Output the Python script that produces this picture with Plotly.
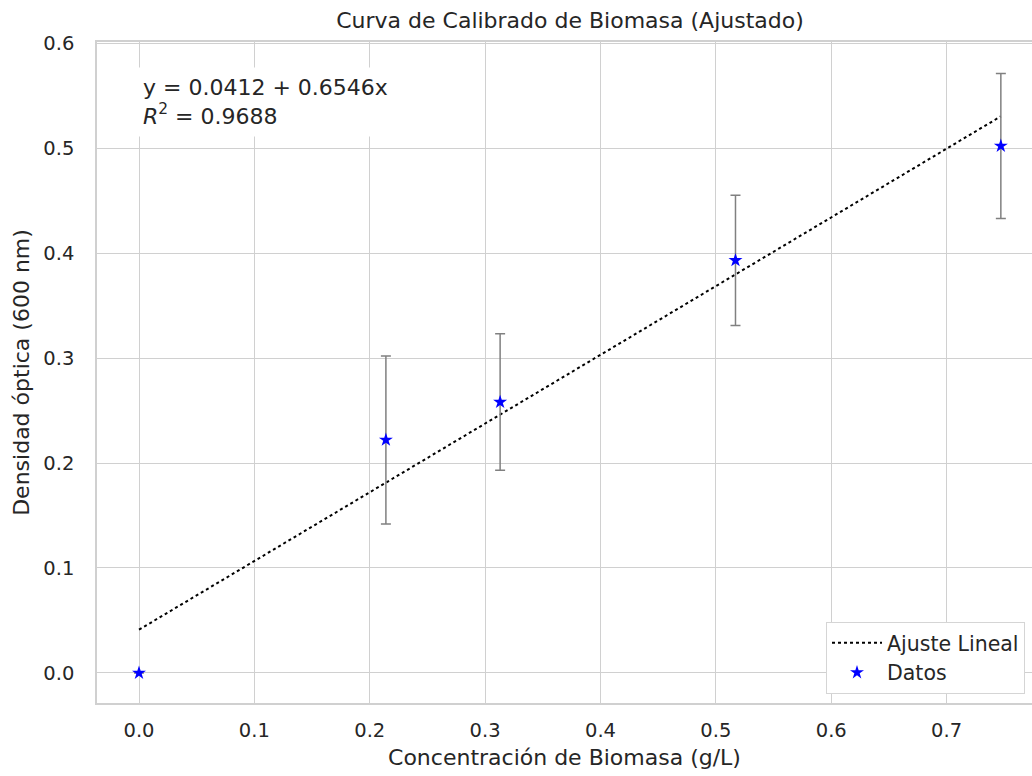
import plotly.graph_objects as go

# Data
concentracion = [0.0, 0.214, 0.313, 0.517, 0.747]
densidad = [0.0, 0.222, 0.258, 0.393, 0.502]
error = [0.0, 0.080, 0.065, 0.062, 0.069]
intercepto = 0.0412
pendiente = 0.6546
r2 = 0.9688
x_ticks = [0.0, 0.1, 0.2, 0.3, 0.4, 0.5, 0.6, 0.7]
y_ticks = [0.0, 0.1, 0.2, 0.3, 0.4, 0.5, 0.6]

fit_x = [min(concentracion), max(concentracion)]
fit_y = [intercepto + pendiente * v for v in fit_x]

txt = "#262626"
grid = "#d0d0d0"
font = "DejaVu Sans"

fig = go.Figure()
fig.add_trace(go.Scatter(
    x=fit_x, y=fit_y, mode="lines", name="Ajuste Lineal",
    line=dict(color="black", width=2, dash="dot"),
))
fig.add_trace(go.Scatter(
    x=concentracion, y=densidad, mode="markers", name="Datos",
    marker=dict(symbol="star", size=10.5, color="blue"),
    error_y=dict(type="data", array=error, visible=True, color="#808080", thickness=1.5, width=5),
))

fig.add_annotation(
    xref="paper", yref="paper", x=(135 - 97) / 935, y=(703 - 67) / 661,
    xanchor="left", yanchor="top", align="left",
    text=f"y = {intercepto:.4f} + {pendiente:.4f}x<br><i>R</i><sup>2</sup> = {r2:.4f}",
    showarrow=False, font=dict(family=font, size=22, color=txt),
    bgcolor="white", borderpad=7,
)

fig.update_layout(
    width=1032, height=776,
    margin=dict(l=97, r=0, t=42, b=73),
    paper_bgcolor="white", plot_bgcolor="white",
    font=dict(family=font, size=19.5, color=txt),
    title=dict(text="Curva de Calibrado de Biomasa (Ajustado)", x=570 / 1032, xanchor="center",
               y=1 - 20 / 776, yanchor="middle", font=dict(size=22, color=txt)),
    showlegend=True,
    legend=dict(x=(826 - 97) / 935, y=(703 - 622) / 661, xanchor="left", yanchor="top",
                bgcolor="white", bordercolor="#d5d5d5", borderwidth=1,
                font=dict(size=20.5, color=txt), tracegroupgap=0, itemwidth=50),
    xaxis=dict(
        range=[-0.0364, 0.774], tickvals=x_ticks, ticktext=[f"{v:.1f}" for v in x_ticks],
        showgrid=True, gridcolor=grid, gridwidth=1.2, zeroline=False,
        showline=True, linecolor=grid, linewidth=1.5, mirror=True,
        ticks="outside", ticklen=9, tickcolor="rgba(0,0,0,0)",
        title=dict(text="Concentración de Biomasa (g/L)", font=dict(size=22, color=txt), standoff=8),
    ),
    yaxis=dict(
        range=[-0.0286, 0.601], tickvals=y_ticks, ticktext=[f"{v:.1f}" for v in y_ticks],
        showgrid=True, gridcolor=grid, gridwidth=1.2, zeroline=False,
        showline=True, linecolor=grid, linewidth=1.5,
        ticks="outside", ticklen=17, tickcolor="rgba(0,0,0,0)",
        title=dict(text="Densidad óptica (600 nm)", font=dict(size=22, color=txt), standoff=8),
    ),
)

fig.write_html("out.html")
